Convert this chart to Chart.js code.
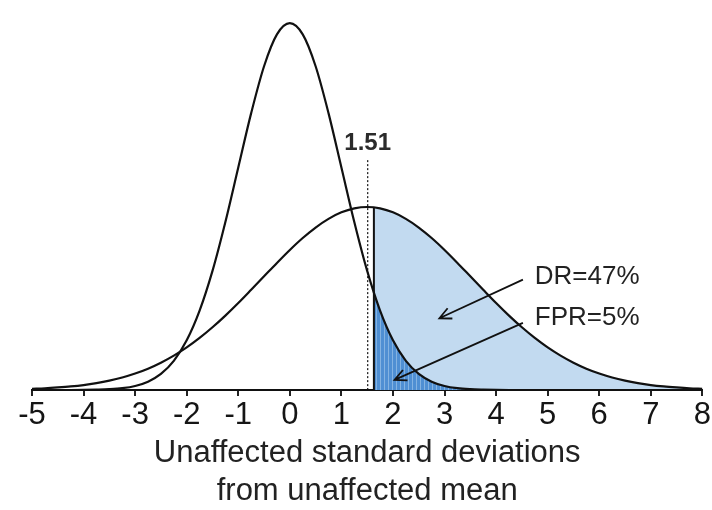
<!DOCTYPE html>
<html>
<head>
<meta charset="utf-8">
<script src="https://cdn.jsdelivr.net/npm/chart.js@4"></script>
<style>
  html, body { margin: 0; padding: 0; background: #fff; }
  #wrap { width: 712px; height: 510px; }
</style>
</head>
<body>
<div id="wrap"><canvas id="curves" width="712" height="510"></canvas></div>
<script>
// x positions (unaffected SDs) for both curves
const xValues = [-5, -4.75, -4.5, -4.25, -4, -3.75, -3.5, -3.25, -3, -2.75, -2.5, -2.25, -2, -1.75, -1.5, -1.25,
    -1, -0.75, -0.5, -0.25, 0, 0.25, 0.5, 0.75, 1, 1.25, 1.5, 1.75, 2, 2.25, 2.5, 2.75, 3, 3.25, 3.5, 3.75,
    4, 4.25, 4.5, 4.75, 5, 5.25, 5.5, 5.75, 6, 6.25, 6.5, 6.75, 7, 7.25, 7.5, 7.75, 8];

// heights
const unaffected = [0, 0, 0, 0, 0.0001, 0.0004, 0.0009, 0.0020, 0.0044, 0.0091, 0.0175, 0.0317, 0.0540, 0.0863, 0.1295, 0.1827,
    0.2420, 0.3011, 0.3521, 0.3867, 0.3989, 0.3867, 0.3521, 0.3011, 0.2420, 0.1827, 0.1295, 0.0863, 0.0540, 0.0317, 0.0175, 0.0091,
    0.0044, 0.0020, 0.0009, 0.0004, 0.0001, 0, 0, 0, 0, 0, 0, 0, 0, 0, 0, 0, 0, 0, 0, 0, 0];
const affected = [0.0013, 0.0019, 0.0028, 0.0039, 0.0054, 0.0075, 0.0102, 0.0136, 0.0179, 0.0232, 0.0297, 0.0374, 0.0463, 0.0566,
    0.0682, 0.0809, 0.0946, 0.1090, 0.1236, 0.1382, 0.1523, 0.1653, 0.1767, 0.1861, 0.1932, 0.1975, 0.1990, 0.1975, 0.1932, 0.1861,
    0.1767, 0.1653, 0.1523, 0.1382, 0.1236, 0.1090, 0.0946, 0.0809, 0.0682, 0.0566, 0.0463, 0.0374, 0.0297, 0.0232, 0.0179, 0.0136,
    0.0102, 0.0075, 0.0054, 0.0039, 0.0028, 0.0019, 0.0013];

const tickValues = [-5, -4, -3, -2, -1, 0, 1, 2, 3, 4, 5, 6, 7, 8];
const axisTitle = ['Unaffected standard deviations', 'from unaffected mean'];

// cut-off and annotations (data units)
const cutoff = 1.51;
const cutoffLabel = '1.51';
const shadeStart = 1.63;
const drTop = 0.1985;   // affected curve at the shaded edge
const fprTop = 0.1057;  // unaffected curve at the shaded edge
const dashTop = 0.25;
const labelY = 0.268;
const notes = [
    { text: 'DR=47%', x: 4.75, y: 0.123, from: [4.52, 0.12], to: [2.9, 0.078] },
    { text: 'FPR=5%', x: 4.75, y: 0.078, from: [4.52, 0.073], to: [2.03, 0.011] }
];

const toPoints = ys => xValues.map((x, i) => ({ x, y: ys[i] }));
// part of a curve right of the shaded edge
const tail = (ys, top) => [{ x: shadeStart, y: top }].concat(toPoints(ys).filter(p => p.x > shadeStart));

// vertical hatching for the false positive area
const hatch = (() => {
    const c = document.createElement('canvas');
    c.width = 4; c.height = 4;
    const g = c.getContext('2d');
    g.fillStyle = '#4f8fd3';
    g.fillRect(0, 0, 4, 4);
    g.fillStyle = '#84b3e2';
    g.fillRect(0, 0, 1, 4);
    return g.createPattern(c, 'repeat');
})();

function arrow(ctx, x1, y1, x2, y2) {
    const a = Math.atan2(y2 - y1, x2 - x1);
    const len = 13, spread = 0.45;
    ctx.beginPath();
    ctx.moveTo(x1, y1);
    ctx.lineTo(x2, y2);
    ctx.moveTo(x2 - len * Math.cos(a - spread), y2 - len * Math.sin(a - spread));
    ctx.lineTo(x2, y2);
    ctx.lineTo(x2 - len * Math.cos(a + spread), y2 - len * Math.sin(a + spread));
    ctx.stroke();
}

const annotations = {
    id: 'annotations',
    afterDatasetsDraw(chart) {
        const { ctx } = chart;
        const xs = chart.scales.x, ys = chart.scales.y;
        const base = ys.getPixelForValue(0);
        ctx.save();
        ctx.strokeStyle = '#111';

        // dotted threshold line
        ctx.lineWidth = 1.2;
        ctx.setLineDash([2, 2]);
        ctx.beginPath();
        ctx.moveTo(xs.getPixelForValue(cutoff), ys.getPixelForValue(dashTop));
        ctx.lineTo(xs.getPixelForValue(cutoff), base);
        ctx.stroke();
        ctx.setLineDash([]);

        // solid edge of shaded area
        ctx.lineWidth = 2;
        ctx.beginPath();
        ctx.moveTo(xs.getPixelForValue(shadeStart), ys.getPixelForValue(drTop));
        ctx.lineTo(xs.getPixelForValue(shadeStart), base);
        ctx.stroke();

        ctx.fillStyle = '#2b2b2b';
        ctx.font = 'bold 24px "Liberation Sans", Arial, sans-serif';
        ctx.textAlign = 'center';
        ctx.textBaseline = 'middle';
        ctx.fillText(cutoffLabel, xs.getPixelForValue(cutoff), ys.getPixelForValue(labelY));

        ctx.font = '26px "Liberation Sans", Arial, sans-serif';
        ctx.textAlign = 'left';
        ctx.fillStyle = '#222';
        ctx.lineWidth = 1.8;
        notes.forEach(n => {
            ctx.fillText(n.text, xs.getPixelForValue(n.x), ys.getPixelForValue(n.y));
            arrow(ctx, xs.getPixelForValue(n.from[0]), ys.getPixelForValue(n.from[1]),
                xs.getPixelForValue(n.to[0]), ys.getPixelForValue(n.to[1]));
        });
        ctx.restore();
    }
};

new Chart(document.getElementById('curves'), {
    type: 'line',
    data: {
        datasets: [
            { data: toPoints(unaffected), borderColor: '#111', borderWidth: 2.2, fill: false, order: 0 },
            { data: toPoints(affected), borderColor: '#111', borderWidth: 2.2, fill: false, order: 0 },
            { data: tail(unaffected, fprTop), borderWidth: 0, borderColor: 'rgba(0,0,0,0)', backgroundColor: hatch, fill: 'origin', order: 1 },
            { data: tail(affected, drTop), borderWidth: 0, borderColor: 'rgba(0,0,0,0)', backgroundColor: '#c2daf0', fill: 'origin', order: 2 }
        ]
    },
    options: {
        responsive: false,
        animation: false,
        elements: { point: { radius: 0 }, line: { cubicInterpolationMode: 'monotone' } },
        layout: { padding: { left: 32, right: 9, top: 13, bottom: 0 } },
        plugins: { legend: { display: false }, tooltip: { enabled: false } },
        scales: {
            x: {
                type: 'linear',
                min: -5,
                max: 8,
                afterBuildTicks: s => { s.ticks = tickValues.map(v => ({ value: v })); },
                afterFit: s => { s.height = 120; },
                grid: { drawOnChartArea: false, drawTicks: true, tickLength: 6, color: '#222', lineWidth: 2 },
                border: { display: true, color: '#111', width: 2 },
                ticks: { color: '#151515', padding: 1, maxRotation: 0, font: { family: '"Liberation Sans", Arial, sans-serif', size: 31 } },
                title: {
                    display: true,
                    text: axisTitle,
                    color: '#222',
                    font: { family: '"Liberation Sans", Arial, sans-serif', size: 31, lineHeight: 1.22 },
                    padding: { top: 0, bottom: 0 }
                }
            },
            y: { display: false, min: 0, max: 0.41 }
        }
    },
    plugins: [annotations]
});
</script>
</body>
</html>
